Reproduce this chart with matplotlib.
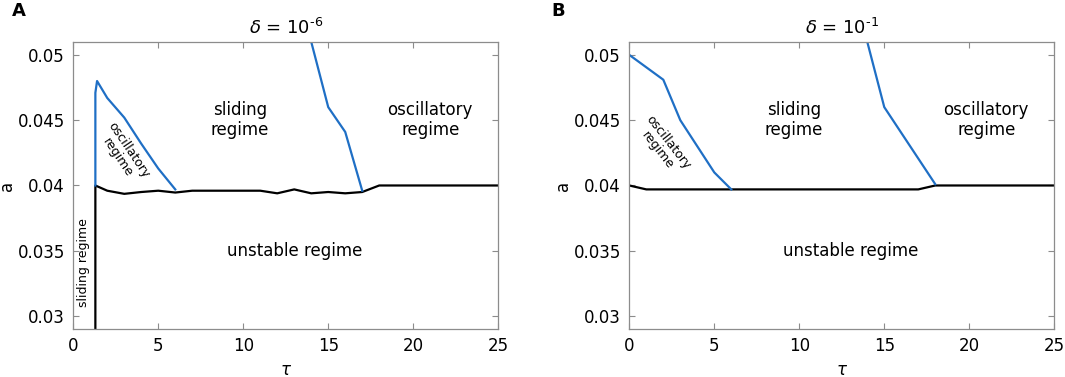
import numpy as np
import matplotlib.pyplot as plt

# panel A (delta = 1e-6)
tau_black_A = [1.3, 1.3, 2, 3, 4, 5, 6, 7, 8, 9, 10, 11, 12, 13, 14, 15, 16, 17, 18, 25]
a_black_A = [0.029, 0.0400, 0.0396, 0.03936, 0.0395, 0.0396, 0.03946, 0.0396, 0.0396, 0.0396,
             0.0396, 0.0396, 0.0394, 0.0397, 0.0394, 0.0395, 0.0394, 0.0395, 0.0400, 0.0400]
tau_blue1_A = [1.3, 1.3, 1.4, 2, 3, 4, 5, 6]
a_blue1_A = [0.0400, 0.0471, 0.0480, 0.0467, 0.0452, 0.0432, 0.0413, 0.0397]
tau_blue2_A = [14, 15, 16, 17]
a_blue2_A = [0.0510, 0.0460, 0.0441, 0.0396]

# panel B (delta = 1e-1)
tau_black_B = [0, 1, 17, 18, 25]
a_black_B = [0.0400, 0.0397, 0.0397, 0.0400, 0.0400]
tau_blue1_B = [0, 2, 3, 4, 5, 6]
a_blue1_B = [0.0500, 0.0481, 0.0450, 0.0430, 0.0410, 0.0397]
tau_blue2_B = [14, 15, 18]
a_blue2_B = [0.0510, 0.0460, 0.0401]

blue = '#1f6fc5'
gray = '#8c8c8c'
fs = 12

fig = plt.figure(figsize=(10.65, 3.77), dpi=100)
axA = fig.add_axes([0.0688, 0.127, 0.399, 0.762])
axB = fig.add_axes([0.5909, 0.127, 0.399, 0.762])


def style(ax, title, ylab_x):
    ax.set_xlim(0, 25)
    ax.set_ylim(0.029, 0.051)
    ax.set_xticks([0, 5, 10, 15, 20, 25])
    ax.set_yticks([0.03, 0.035, 0.04, 0.045, 0.05])
    ax.set_yticklabels(['0.03', '0.035', '0.04', '0.045', '0.05'])
    ax.tick_params(direction='in', top=True, right=True, length=4, width=0.8,
                   color=gray, labelsize=fs, pad=6)
    for s in ax.spines.values():
        s.set_color(gray)
        s.set_linewidth(0.9)
    ax.set_xlabel(r'$\tau$', fontsize=fs, labelpad=4)
    ax.set_ylabel('a', fontsize=fs)
    ax.yaxis.set_label_coords(ylab_x, 0.5)
    ax.set_title(title, fontsize=13, pad=6)


axA.plot(tau_black_A, a_black_A, color='black', lw=1.6)
axA.plot(tau_blue1_A, a_blue1_A, color=blue, lw=1.6)
axA.plot(tau_blue2_A, a_blue2_A, color=blue, lw=1.6)
style(axA, r'$\delta$ = 10$^{\text{-6}}$', -0.135)
axA.text(9.8, 0.045, 'sliding\nregime', ha='center', va='center', fontsize=fs, linespacing=1.1)
axA.text(21.0, 0.045, 'oscillatory\nregime', ha='center', va='center', fontsize=fs, linespacing=1.1)
axA.text(13.0, 0.035, 'unstable regime', ha='center', va='center', fontsize=fs)
axA.text(2.95, 0.0424, 'oscillatory\nregime', ha='center', va='center', fontsize=9,
         rotation=-56, rotation_mode='anchor', linespacing=1.05)
axA.text(0.62, 0.0341, 'sliding regime', ha='center', va='center', fontsize=9, rotation=90)

axB.plot(tau_black_B, a_black_B, color='black', lw=1.6)
axB.plot(tau_blue1_B, a_blue1_B, color=blue, lw=1.6)
axB.plot(tau_blue2_B, a_blue2_B, color=blue, lw=1.6)
style(axB, r'$\delta$ = 10$^{\text{-1}}$', -0.135)
axB.text(9.7, 0.045, 'sliding\nregime', ha='center', va='center', fontsize=fs, linespacing=1.1)
axB.text(21.0, 0.045, 'oscillatory\nregime', ha='center', va='center', fontsize=fs, linespacing=1.1)
axB.text(13.0, 0.035, 'unstable regime', ha='center', va='center', fontsize=fs)
axB.text(2.0, 0.0430, 'oscillatory\nregime', ha='center', va='center', fontsize=9,
         rotation=-52, rotation_mode='anchor', linespacing=1.05)

fig.text(0.011, 0.971, 'A', fontsize=13, fontweight='bold', va='center')
fig.text(0.518, 0.971, 'B', fontsize=13, fontweight='bold', va='center')

fig.savefig('out.png', dpi=100)
